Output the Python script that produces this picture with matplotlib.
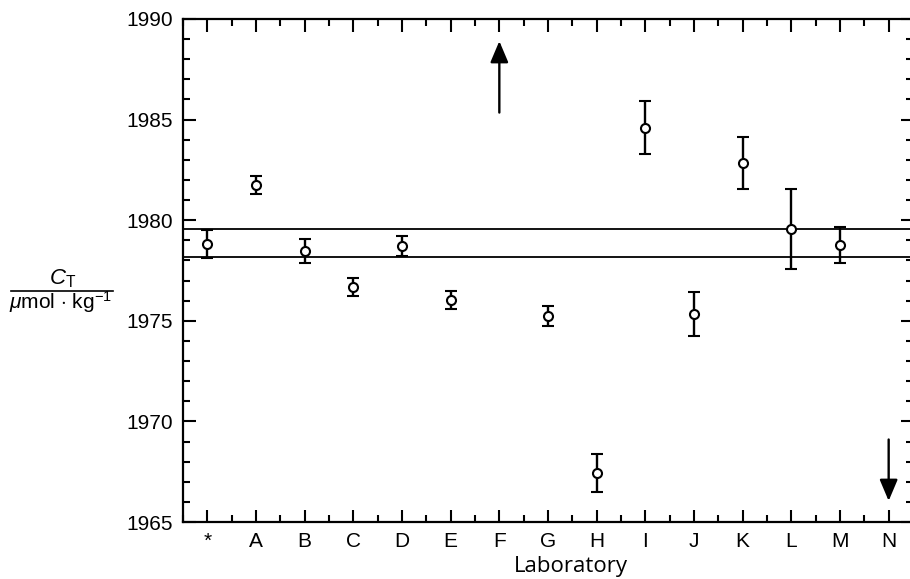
import matplotlib.pyplot as plt
import matplotlib.lines as mlines
import numpy as np
from matplotlib.ticker import MultipleLocator

plt.rcParams['font.family'] = ['Liberation Sans', 'DejaVu Sans']
plt.rcParams['mathtext.fontset'] = 'custom'
plt.rcParams['mathtext.rm'] = 'Liberation Sans'
plt.rcParams['mathtext.it'] = 'Liberation Sans:italic'

labs = ['*', 'A', 'B', 'C', 'D', 'E', 'F', 'G', 'H', 'I', 'J', 'K', 'L', 'M', 'N']
# F and N are off scale (shown with arrows)
ct_mean = [1978.8, 1981.75, 1978.45, 1976.7, 1978.7, 1976.05, np.nan, 1975.25,
           1967.45, 1984.6, 1975.35, 1982.85, 1979.55, 1978.75, np.nan]
ct_err = [0.7, 0.45, 0.6, 0.45, 0.5, 0.45, np.nan, 0.5,
          0.95, 1.3, 1.1, 1.3, 2.0, 0.9, np.nan]
ref_band = [1978.15, 1979.55]
off_up = ('F', 1985.35, 1988.9)
off_down = ('N', 1969.1, 1966.05)

fig = plt.figure(figsize=(9.10, 5.79), dpi=100)
ax = fig.add_axes([183 / 910, 57 / 579, 730 / 910, 503 / 579])

x = np.arange(len(labs))
ax.errorbar(x, ct_mean, yerr=ct_err, fmt='o', mfc='white', mec='black', mew=1.5,
            ms=6.5, ecolor='black', elinewidth=1.7, capsize=4, capthick=1.7, zorder=3)

for v in ref_band:
    ax.axhline(v, color='black', lw=1.3, zorder=2)

for lab, y0, y1 in (off_up, off_down):
    xi = labs.index(lab)
    ax.annotate('', xy=(xi, y1), xytext=(xi, y0),
                arrowprops=dict(arrowstyle='-|>,head_length=1.3,head_width=0.55',
                                color='black', lw=1.7, shrinkA=0, shrinkB=0))

ax.set_xlim(-0.5, 14.5)
ax.set_ylim(1965, 1990)
ax.set_xticks(x)
ax.set_xticklabels(labs)
ax.xaxis.set_minor_locator(MultipleLocator(0.5))
ax.yaxis.set_major_locator(MultipleLocator(5))
ax.yaxis.set_minor_locator(MultipleLocator(1))
ax.tick_params(which='both', direction='in', top=True, right=True, width=1.5, labelsize=15)
ax.tick_params(which='major', length=9, pad=7)
ax.tick_params(which='minor', length=5)
for s in ax.spines.values():
    s.set_linewidth(1.6)

xl = ax.set_xlabel('Laboratory', fontsize=16, family='Open Sans')
xl.set_va('baseline')
ax.xaxis.set_label_coords(0.532, -0.100)

fig.text(63 / 910, 1 - 284 / 579, r'$C_\mathrm{T}$', fontsize=16, ha='center', va='baseline')
fig.add_artist(mlines.Line2D([11 / 910, 113 / 910], [1 - 291 / 579, 1 - 291 / 579],
                             color='black', lw=1.2))
fig.text(61 / 910, 1 - 309 / 579, r'$\mu$mol $\cdot$ kg$^{-1}$', fontsize=15,
         ha='center', va='baseline')

fig.savefig('out.png', dpi=100)
